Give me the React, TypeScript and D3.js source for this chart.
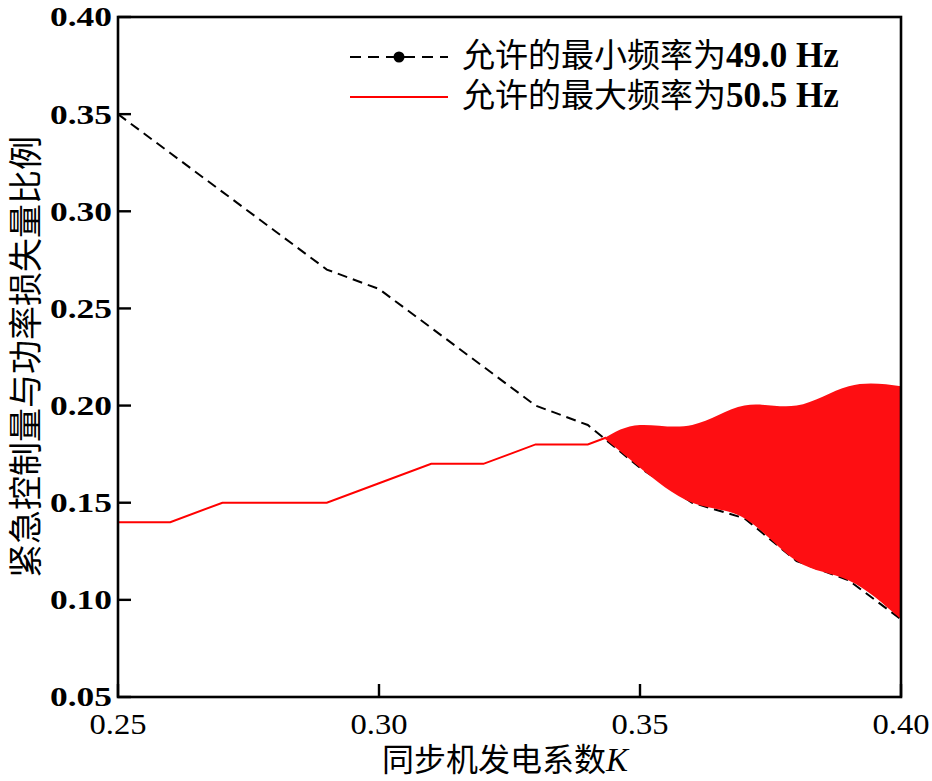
import React from "react";
import * as d3 from "d3";

const kValues = [0.25, 0.26, 0.27, 0.28, 0.29, 0.30, 0.31, 0.32, 0.33, 0.34, 0.35, 0.36, 0.37, 0.38, 0.39, 0.40];
const minFreqRatio = [0.35, 0.33, 0.31, 0.29, 0.27, 0.26, 0.24, 0.22, 0.20, 0.19, 0.168, 0.15, 0.142, 0.12, 0.11, 0.09];
const maxFreqRatio = [0.14, 0.14, 0.15, 0.15, 0.15, 0.16, 0.17, 0.17, 0.18, 0.18, 0.19, 0.19, 0.20, 0.20, 0.21, 0.21];
const xTicks = [0.25, 0.30, 0.35, 0.40];
const yTicks = [0.05, 0.10, 0.15, 0.20, 0.25, 0.30, 0.35, 0.40];
const legendLabels = [
  { cjk: "允许的最小频率为", latin: "49.0 Hz" },
  { cjk: "允许的最大频率为", latin: "50.5 Hz" },
];
const xTitle = "同步机发电系数";
const yTitle = "紧急控制量与功率损失量比例";

const W = 932;
const H = 781;
const M = { left: 118, right: 901, top: 17, bottom: 697 };

const CJK = "'Noto Sans CJK SC', 'Noto Sans', sans-serif";
const SERIF = "'Liberation Serif', 'DejaVu Serif', serif";

export default function App() {
  const x = d3.scaleLinear().domain([0.25, 0.40]).range([M.left, M.right]);
  const y = d3.scaleLinear().domain([0.05, 0.40]).range([M.bottom, M.top]);

  const minData = kValues.map((k, i) => ({ k, v: minFreqRatio[i] }));
  const maxData = kValues.map((k, i) => ({ k, v: maxFreqRatio[i] }));

  const line = d3
    .line<{ k: number; v: number }>()
    .x((d) => x(d.k))
    .y((d) => y(d.v));

  // region where max-frequency curve exceeds min-frequency curve
  const band: { k: number; lo: number; hi: number }[] = [];
  for (let i = 0; i < kValues.length; i++) {
    const diff = maxFreqRatio[i] - minFreqRatio[i];
    if (diff > 0) {
      if (band.length === 0 && i > 0) {
        const d0 = maxFreqRatio[i - 1] - minFreqRatio[i - 1];
        const t = d0 / (d0 - diff);
        const kc = kValues[i - 1] + t * (kValues[i] - kValues[i - 1]);
        const vc = minFreqRatio[i - 1] + t * (minFreqRatio[i] - minFreqRatio[i - 1]);
        band.push({ k: kc, lo: vc, hi: vc });
      }
      band.push({ k: kValues[i], lo: minFreqRatio[i], hi: maxFreqRatio[i] });
    }
  }
  const area = d3
    .area<{ k: number; lo: number; hi: number }>()
    .x((d) => x(d.k))
    .y0((d) => y(d.lo))
    .y1((d) => y(d.hi))
    .curve(d3.curveNatural);

  const bandStartX = band.length ? x(band[0].k) : M.right;
  const tickLen = 13;

  return (
    <svg
      width={W}
      height={H}
      style={{ position: "absolute", left: 0, top: 0, background: "#fff" }}
    >
      <defs>
        <clipPath id="beforeBand">
          <rect x={0} y={0} width={bandStartX + 2} height={H} />
        </clipPath>
      </defs>
      <rect x={0} y={0} width={W} height={H} fill="#fff" />

      {/* lines */}
      <path d={line(minData) || ""} fill="none" stroke="#000" strokeWidth={2} strokeDasharray="10,6" />
      <path
        d={line(maxData) || ""}
        fill="none"
        stroke="#ff0000"
        strokeWidth={2}
        clipPath="url(#beforeBand)"
      />

      {/* fill between curves */}
      <path d={area(band) || ""} fill="#fe0e12" stroke="none" />

      {/* frame */}
      <rect
        x={M.left}
        y={M.top}
        width={M.right - M.left}
        height={M.bottom - M.top}
        fill="none"
        stroke="#000"
        strokeWidth={2.6}
      />

      {/* y ticks */}
      {yTicks.map((t) => (
        <g key={"y" + t}>
          <line x1={M.left} x2={M.left + tickLen} y1={y(t)} y2={y(t)} stroke="#000" strokeWidth={2.4} />
          <text
            x={112}
            y={y(t)}
            dy="0.35em"
            textAnchor="end"
            fontFamily={SERIF}
            fontWeight="bold"
            fontSize={27}
            textLength={62}
            lengthAdjust="spacingAndGlyphs"
          >
            {t.toFixed(2)}
          </text>
        </g>
      ))}

      {/* x ticks */}
      {xTicks.map((t) => (
        <g key={"x" + t}>
          <line x1={x(t)} x2={x(t)} y1={M.bottom} y2={M.bottom - tickLen} stroke="#000" strokeWidth={2.4} />
          <text
            x={x(t)}
            y={734}
            textAnchor="middle"
            fontFamily={SERIF}
            fontSize={30}
            textLength={57}
            lengthAdjust="spacingAndGlyphs"
          >
            {t.toFixed(2)}
          </text>
        </g>
      ))}

      {/* axis titles */}
      <text x={382} y={771} fontFamily={CJK} fontSize={32}>
        {xTitle}
        <tspan fontFamily={SERIF} fontStyle="italic" fontSize={33}>
          K
        </tspan>
      </text>
      <text
        transform={`translate(38, ${(M.top + M.bottom) / 2}) rotate(-90)`}
        textAnchor="middle"
        fontFamily={CJK}
        fontSize={34}
      >
        {yTitle}
      </text>

      {/* legend */}
      <line x1={350} x2={448} y1={57} y2={57} stroke="#000" strokeWidth={2} strokeDasharray="11,7" />
      <circle cx={399} cy={57} r={5.5} fill="#000" />
      <line x1={350} x2={448} y1={97} y2={97} stroke="#ff0000" strokeWidth={2} />
      {legendLabels.map((l, i) => (
        <text key={i} x={462} y={67 + i * 40} fontFamily={CJK} fontSize={33}>
          {l.cjk}
          <tspan fontFamily={SERIF} fontWeight="bold" fontSize={35}>
            {l.latin}
          </tspan>
        </text>
      ))}
    </svg>
  );
}
